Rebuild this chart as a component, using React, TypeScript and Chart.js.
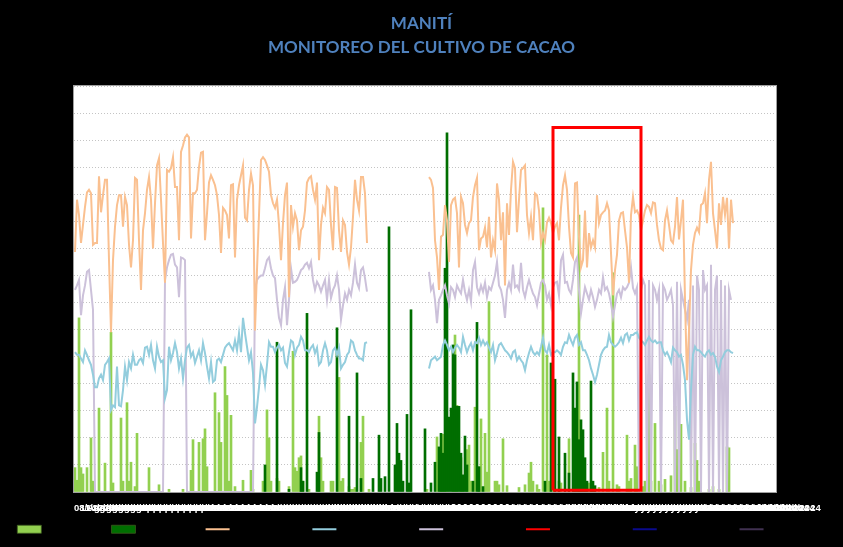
import React, { useEffect, useRef } from 'react';
import { Chart, registerables } from 'chart.js';

Chart.register(...registerables);

const _ = null;

// ---- Categories (one per day) ----
const START_YEAR = 2023;
const START_MONTH = 7; // August (0-based)
const START_DAY = 8;
const DAY_COUNT = 351;
const LABEL_EVERY = 3; // a date label every 3 days (they overlap, as in the original)
const MESES = ['Ene', 'Feb', 'Mar', 'Abr', 'May', 'Jun', 'Jul', 'Ago', 'Sep', 'Oct', 'Nov', 'Dic'];
const DAY_LABELS: string[] = Array.from({ length: DAY_COUNT }, (_v, i) => {
  const d = new Date(START_YEAR, START_MONTH, START_DAY + i);
  return `${String(d.getDate()).padStart(2, '0')}/${MESES[d.getMonth()]}/${d.getFullYear()}`;
});

const TITLE_LINES = ['MANITÍ', 'MONITOREO DEL CULTIVO DE CACAO'];
const SERIES_NAMES = ['Precip. 1', 'Precip. 2', 'T. máx (°C)', 'T. rocío °C', 'T. mín (°C)', 'Etapa clave', 'T. máx hist', 'Tmín hist'];

// ---- Bars: [day index, mm] ----
const LLUVIA_1: [number, number][] = [
  [0, 2.7], [1, 1.3], [2, 19.3], [3, 2.7], [4, 2.0], [6, 2.7], [8, 6.0], [9, 1.2], [12, 9.3], [15, 3.2],
  [18, 17.7], [19, 1.0], [23, 8.2], [24, 1.2], [26, 9.9], [27, 1.2], [28, 3.3], [30, 0.6], [31, 6.5], [37, 2.7],
  [42, 0.8], [47, 0.3], [54, 0.3], [58, 2.4], [59, 5.8], [62, 5.5], [64, 5.9], [65, 7.0], [66, 2.8], [70, 11.0],
  [72, 8.8], [73, 5.5], [75, 13.9], [76, 10.7], [77, 1.2], [78, 8.5], [80, 0.6], [84, 1.3], [88, 2.4], [89, 0.3],
  [94, 1.2], [96, 9.1], [97, 6.0], [98, 1.2], [101, 1.5], [102, 1.2], [107, 0.6], [109, 15.6], [110, 2.7], [111, 2.3],
  [112, 3.8], [113, 4.0], [114, 1.2], [117, 0.3], [122, 8.4], [123, 3.8], [124, 1.2], [128, 1.2], [129, 1.2], [132, 12.7],
  [133, 1.2], [134, 1.5], [137, 0.6], [138, 0.3], [139, 0.3], [140, 0.5], [143, 5.5], [144, 8.4], [147, 0.3], [176, 0.3],
  [181, 6.1], [183, 3.0], [184, 6.4], [185, 5.8], [186, 8.3], [189, 4.3], [190, 17.4], [191, 9.6], [193, 3.8], [194, 1.2],
  [196, 4.7], [197, 5.2], [198, 1.2], [200, 9.4], [202, 2.8], [203, 8.1], [205, 6.5], [206, 2.2], [207, 21.1], [210, 1.2],
  [211, 1.2], [212, 0.8], [214, 5.9], [216, 0.7], [222, 0.5], [225, 0.8], [227, 2.1], [228, 3.3], [229, 1.2], [231, 0.8],
  [232, 0.3], [234, 31.5], [236, 15.2], [237, 1.2], [239, 1.2], [242, 1.2], [243, 1.0], [247, 5.9], [252, 30.7], [257, 1.0],
  [262, 0.5], [264, 4.4], [266, 9.3], [267, 1.2], [269, 24.3], [271, 0.8], [272, 0.6], [276, 6.3], [277, 1.2], [278, 1.5],
  [280, 5.2], [281, 2.8], [284, 0.6], [285, 1.2], [287, 13.0], [288, 1.2], [290, 7.6], [292, 1.2], [293, 0.8], [295, 1.4],
  [298, 1.8], [300, 9.5], [301, 4.7], [302, 0.8], [303, 7.5], [305, 1.2], [308, 0.5], [310, 5.4], [311, 3.5], [312, 1.2],
  [317, 0.3], [319, 0.6], [322, 0.3], [326, 5.0], [327, 4.9],
];

const LLUVIA_2: [number, number][] = [
  [95, 3.0], [101, 16.6], [107, 0.3], [113, 2.7], [114, 1.2], [116, 19.8], [121, 2.2], [122, 6.6], [131, 18.2], [137, 8.4],
  [141, 13.2], [143, 1.5], [149, 1.5], [152, 6.3], [153, 1.5], [155, 1.7], [157, 29.4], [160, 3.0], [161, 7.6], [162, 4.3],
  [163, 3.5], [164, 1.2], [166, 8.6], [167, 1.0], [168, 20.2], [175, 7.0], [178, 1.0], [180, 3.3], [182, 5.0], [183, 6.5],
  [184, 4.3], [185, 24.8], [186, 39.8], [187, 8.3], [188, 9.3], [189, 16.3], [190, 15.2], [191, 9.5], [192, 9.5], [193, 4.3],
  [194, 1.9], [195, 6.2], [196, 3.0], [199, 1.2], [201, 18.8], [202, 2.8], [204, 0.6], [235, 1.2], [238, 14.3], [240, 12.5],
  [242, 6.1], [245, 4.3], [247, 2.1], [249, 13.2], [250, 9.3], [251, 12.2], [252, 5.8], [253, 8.0], [254, 6.9], [255, 3.8],
  [256, 1.2], [258, 12.3], [259, 1.2], [260, 0.7],
];

// ---- Lines (one value per day) ----
const T_MAX = [
  26.6, 32.4, 30.7, 27.6, 29.6, 31.6, 33.2, 33.5, 33.1, 27.4,
  27.6, 27.6, 35.0, 31.0, 32.9, 34.6, 34.6, 25.7, 17.7, 25.7,
  29.4, 31.8, 32.9, 32.9, 29.4, 32.7, 31.8, 27.4, 24.9, 27.9,
  34.8, 34.6, 27.9, 22.4, 29.0, 30.9, 33.5, 34.9, 32.4, 27.0,
  32.0, 36.2, 37.0, 32.4, 27.6, 23.2, 35.7, 35.5, 35.9, 37.1,
  33.8, 33.8, 27.9, 37.7, 38.4, 39.3, 39.6, 39.3, 28.1, 33.1,
  33.1, 33.5, 36.0, 37.6, 37.7, 27.9, 30.9, 34.3, 35.1, 34.6,
  34.0, 32.9, 30.7, 26.5, 31.5, 31.2, 30.7, 28.1, 34.0, 34.1,
  26.0, 32.4, 34.0, 35.1, 36.2, 30.4, 30.1, 33.5, 35.3, 34.0,
  17.9, 24.6, 30.7, 36.8, 37.1, 36.8, 36.2, 35.5, 32.9, 32.0,
  31.5, 32.4, 29.6, 25.7, 29.8, 32.9, 34.3, 21.6, 31.8, 29.4,
  30.9, 30.1, 26.8, 29.0, 29.4, 31.2, 34.3, 34.8, 35.0, 33.5,
  32.4, 34.3, 25.7, 29.6, 31.5, 30.9, 33.8, 33.5, 29.6, 26.8,
  33.8, 33.7, 29.0, 26.6, 30.1, 29.6, 26.6, 25.2, 27.1, 30.5,
  34.6, 32.4, 31.2, 34.9, 34.9, 33.1, 27.6, _, _, _,
  _, _, _, _, _, _, _, _, _, _,
  _, _, _, _, _, _, _, _, _, _,
  _, _, _, _, _, _, _, 34.9, 34.6, 33.7,
  27.9, 26.0, 22.4, 28.3, 28.5, 31.8, 30.1, 25.5, 31.8, 32.4,
  32.6, 30.9, 24.9, 32.7, 32.0, 29.6, 28.7, 29.8, 30.1, 32.7,
  34.0, 34.8, 26.8, 28.1, 28.3, 29.3, 27.1, 30.5, 26.0, 27.9,
  26.8, 34.2, 32.4, 27.9, 31.0, 22.9, 32.0, 28.5, 33.5, 36.6,
  35.9, 28.8, 32.4, 35.7, 35.9, 36.2, 30.7, 28.7, 30.5, 27.9,
  33.1, 32.9, 31.2, 27.6, 28.7, 27.9, 29.9, 30.4, 29.8, 28.7,
  29.4, 29.8, 27.9, 31.5, 34.0, 35.1, 33.5, 29.4, 26.5, 26.0,
  34.2, 34.3, 28.3, 24.9, 25.7, 31.2, 24.9, 28.7, 27.1, 27.9,
  27.1, 32.9, 29.8, 30.7, 31.0, 31.2, 32.0, 31.2, 26.5, 21.8,
  24.6, 26.3, 30.1, 30.9, 31.0, 29.0, 27.1, 23.2, 30.7, 32.7,
  31.0, 31.2, 30.7, 29.0, 30.1, 31.2, 31.8, 31.6, 30.9, 32.1,
  32.0, 29.6, 27.9, 27.0, 26.8, 30.1, 31.2, 29.6, 27.9, 27.6,
  29.4, 32.7, 28.0, 30.1, 32.4, 21.3, 12.4, 17.9, 24.6, 27.4,
  28.7, 29.3, 28.8, 31.8, 32.0, 33.1, 29.8, 34.6, 36.6, 30.9,
  29.0, 27.0, 32.0, 29.6, 32.7, 30.7, 32.6, 27.0, 32.4, 29.8,
  _, _, _, _, _, _, _, _, _, _,
  _, _, _, _, _, _, _, _, _, _,
  _,
];

const T_ROCIO = [
  15.5, 15.2, 15.2, 14.8, 14.4, 15.7, 15.2, 14.6, 14.1, 13.0,
  11.6, 11.6, 12.6, 13.0, 12.4, 14.1, 14.4, 14.8, 9.1, 9.6,
  9.4, 13.9, 9.6, 9.5, 11.3, 13.9, 12.4, 14.4, 13.7, 15.2,
  14.1, 14.1, 14.6, 14.8, 14.3, 16.0, 16.1, 15.2, 16.3, 14.6,
  13.7, 16.1, 15.0, 14.4, 14.6, 10.4, 11.3, 16.1, 14.6, 15.4,
  16.5, 15.5, 13.7, 14.8, 12.6, 14.6, 16.0, 16.3, 15.0, 15.5,
  14.3, 15.0, 15.7, 14.6, 16.5, 15.4, 13.9, 12.6, 14.4, 12.2,
  12.4, 14.6, 14.8, 14.4, 15.2, 16.0, 16.3, 16.5, 16.1, 15.7,
  16.8, 15.7, 17.6, 15.5, 19.3, 17.6, 16.1, 14.6, 15.5, 13.2,
  7.6, 9.4, 11.6, 14.1, 13.5, 11.9, 14.1, 16.6, 16.1, 16.1,
  15.5, 16.0, 16.3, 15.7, 16.0, 14.3, 13.9, 15.5, 16.8, 16.6,
  15.2, 16.0, 16.3, 17.2, 16.8, 15.7, 15.7, 15.5, 16.0, 16.3,
  15.4, 16.0, 14.1, 14.4, 15.7, 16.5, 15.7, 14.1, 14.4, 15.7,
  16.0, 15.2, 16.0, 13.7, 14.1, 14.4, 15.2, 15.5, 16.8, 16.6,
  15.7, 15.2, 14.8, 14.8, 14.6, 16.5, 16.6, _, _, _,
  _, _, _, _, _, _, _, _, _, _,
  _, _, _, _, _, _, _, _, _, _,
  _, _, _, _, _, _, _, 13.7, 14.6, 14.8,
  15.0, 14.6, 14.8, 15.0, 16.3, 16.8, 16.3, 15.7, 16.1, 15.5,
  16.0, 16.3, 16.0, 15.5, 17.2, 16.3, 15.5, 16.1, 16.5, 15.7,
  16.6, 16.5, 17.1, 16.3, 16.8, 16.3, 16.6, 16.0, 15.5, 16.3,
  14.6, 15.4, 16.3, 16.5, 16.1, 15.7, 15.5, 15.2, 14.8, 15.5,
  15.7, 14.6, 15.0, 14.6, 14.3, 13.5, 14.6, 15.4, 16.1, 15.5,
  15.2, 15.5, 15.2, 16.1, 17.1, 15.7, 15.4, 16.3, 15.2, 15.5,
  15.5, 15.7, 15.5, 15.2, 16.1, 16.6, 16.5, 17.4, 16.8, 16.3,
  17.1, 17.4, 16.3, 16.6, 15.7, 15.7, 15.2, 14.6, 13.7, 13.0,
  12.2, 13.0, 14.1, 15.2, 15.7, 16.0, 16.1, 17.4, 16.6, 16.3,
  16.1, 16.3, 16.6, 17.1, 16.5, 17.4, 17.6, 16.8, 17.4, 17.4,
  17.6, 17.7, 17.1, 16.8, 16.6, 16.3, 16.8, 17.2, 16.8, 16.6,
  16.8, 16.5, 16.6, 16.6, 15.7, 15.2, 15.5, 15.0, 14.4, 16.0,
  15.7, 15.5, 15.0, 15.2, 14.1, 12.4, 8.0, 5.8, 11.3, 15.2,
  16.1, 15.7, 15.7, 15.5, 15.2, 15.0, 15.5, 15.7, 15.2, 15.4,
  15.0, 13.9, 13.3, 14.6, 15.0, 15.5, 15.7, 15.7, 15.5, 15.4,
  _, _, _, _, _, _, _, _, _, _,
  _, _, _, _, _, _, _, _, _, _,
  _,
];

const T_MIN = [
  22.4, 22.9, 23.5, 19.6, 21.8, 22.9, 24.4, 24.6, 22.4, 20.2,
  0, 0, 0, 0, 0, 0, 0, 0, 0, 0,
  0, 0, 0, 0, 0, 0, 0, 0, 0, 0,
  0, 0, 0, 0, 0, 0, 0, 0, 0, 0,
  0, 0, 0, 0, 0, 23.5, 24.9, 25.7, 26.3, 26.4,
  25.2, 24.9, 21.6, 26.0, 25.9, 25.7, 0, 0, 0, 0,
  0, 0, 0, 0, 0, 0, 0, 0, 0, 0,
  0, 0, 0, 0, 0, 0, 0, 0, 0, 0,
  0, 0, 0, 0, 0, 0, 0, 0, 0, 0,
  22.4, 23.5, 23.8, 24.0, 24.0, 24.8, 25.7, 26.0, 24.8, 24.0,
  23.7, 21.3, 19.3, 18.5, 21.3, 22.7, 18.5, 21.3, 24.8, 23.2,
  23.3, 23.5, 24.0, 24.6, 24.8, 25.2, 25.4, 24.8, 25.5, 23.5,
  22.4, 23.3, 22.9, 22.2, 22.9, 23.5, 21.3, 23.5, 21.5, 22.4,
  22.9, 24.0, 22.4, 19.1, 20.7, 22.0, 21.3, 22.4, 21.8, 23.2,
  25.2, 23.2, 22.6, 24.6, 24.9, 23.7, 22.2, _, _, _,
  _, _, _, _, _, _, _, _, _, _,
  _, _, _, _, _, _, _, _, _, _,
  _, _, _, _, _, _, _, 24.4, 22.4, 22.9,
  21.3, 18.7, 21.3, 21.8, 22.4, 22.9, 21.8, 20.9, 22.7, 22.4,
  21.6, 22.9, 22.4, 22.0, 23.5, 22.2, 21.3, 22.4, 21.1, 24.6,
  25.5, 22.7, 22.0, 22.9, 22.2, 23.2, 21.6, 22.7, 22.4, 23.2,
  24.0, 25.5, 22.9, 22.4, 21.3, 19.3, 22.4, 23.2, 22.4, 25.2,
  22.7, 22.9, 22.4, 25.4, 22.4, 21.6, 22.7, 23.5, 22.7, 22.0,
  21.6, 20.7, 22.0, 23.2, 23.5, 22.9, 21.3, 22.0, 20.7, 22.7,
  23.2, 23.3, 21.8, 25.7, 26.3, 23.2, 23.3, 22.4, 22.0, 23.5,
  25.5, 26.0, 22.4, 19.8, 21.3, 22.7, 22.0, 21.3, 22.4, 21.6,
  20.5, 21.3, 22.4, 22.0, 23.8, 22.4, 22.7, 22.0, 20.9, 19.4,
  20.7, 22.0, 22.4, 21.6, 22.7, 22.4, 22.7, 23.2, 24.9, 22.6,
  22.0, 22.7, 0, 22.4, 23.5, 22.9, 0, 23.5, 0, 22.9,
  22.4, 21.3, 22.4, 0, 22.9, 22.4, 21.3, 21.8, 22.4, 20.7,
  0, 23.3, 0, 22.4, 21.3, 20.2, 19.1, 21.3, 0, 22.9,
  0, 24.0, 22.4, 0, 24.6, 22.4, 22.9, 0, 25.2, 0,
  22.4, 24.0, 0, 23.5, 0, 22.9, 0, 22.4, 21.3, _,
  _, _, _, _, _, _, _, _, _, _,
  _, _, _, _, _, _, _, _, _, _,
  _,
];

const T_MAX_HIST: (number | null)[] = [];
const T_MIN_HIST: (number | null)[] = [];

// ---- Highlight box (April – mid May) ----
const BOX_FROM = '03/Abr/2024';
const BOX_TO = '17/May/2024';
const BOX_BOTTOM = 0.2;
const BOX_TOP = 40.4;

const Y_MAX = 45;
const Y_STEP = 3;

const COLORS = ['#92D050', '#006E00', '#FAC090', '#93CDDD', '#CCC1DA', '#FF0000', '#0A0A8C', '#403151'];

const framePlugin = {
  id: 'frame',
  beforeDraw(chart: any) {
    const { ctx, width, height, chartArea: a } = chart;
    ctx.save();
    ctx.fillStyle = '#000000';
    ctx.fillRect(0, 0, width, height);
    ctx.fillStyle = '#ffffff';
    ctx.fillRect(a.left, a.top, a.right - a.left, a.bottom - a.top);
    ctx.restore();
  },
  beforeDatasetsDraw(chart: any) {
    const { ctx, chartArea: a } = chart;
    ctx.save();
    ctx.strokeStyle = '#a0a0a0';
    ctx.lineWidth = 1;
    ctx.strokeRect(a.left - 0.5, a.top - 0.5, a.right - a.left + 1, a.bottom - a.top + 1);
    ctx.restore();
  },
  // date labels of the category axis, placed at the x scale's own tick pixels
  afterDraw(chart: any) {
    const { ctx } = chart;
    const sx = chart.scales.x;
    ctx.save();
    ctx.fillStyle = '#ffffff';
    ctx.font = "bold 9.5px 'Liberation Sans', Arial, sans-serif";
    ctx.textAlign = 'left';
    ctx.textBaseline = 'middle';
    const y = sx.top + 16;
    for (let i = 0; i < DAY_LABELS.length; i += LABEL_EVERY) {
      ctx.fillText(DAY_LABELS[i], sx.getPixelForTick(i) - 1, y);
    }
    ctx.restore();
  },
};

export default function App() {
  const ref = useRef<HTMLCanvasElement>(null);

  useEffect(() => {
    const barData = (pairs: [number, number][]) => pairs.map(([d, v]) => ({ x: DAY_LABELS[d], y: v }));
    const lineDs = (idx: number, data: any[], width = 2) => ({
      type: 'line' as const,
      label: SERIES_NAMES[idx],
      data,
      borderColor: COLORS[idx],
      backgroundColor: COLORS[idx],
      borderWidth: width,
      pointRadius: 0,
      pointHoverRadius: 0,
      tension: 0,
      spanGaps: false,
      fill: false,
      order: 1,
    });

    const chart = new Chart(ref.current!, {
      type: 'bar',
      data: {
        labels: DAY_LABELS,
        datasets: [
          {
            type: 'bar',
            label: SERIES_NAMES[0],
            data: barData(LLUVIA_1) as any,
            backgroundColor: COLORS[0],
            borderWidth: 0,
            grouped: false,
            barThickness: 2,
            order: 3,
          },
          {
            type: 'bar',
            label: SERIES_NAMES[1],
            data: barData(LLUVIA_2) as any,
            backgroundColor: COLORS[1],
            borderWidth: 0,
            grouped: false,
            barThickness: 2,
            order: 2,
          },
          lineDs(2, T_MAX),
          lineDs(3, T_ROCIO),
          lineDs(4, T_MIN),
          {
            ...lineDs(5, [
              { x: BOX_FROM, y: BOX_BOTTOM },
              { x: BOX_FROM, y: BOX_TOP },
              { x: BOX_TO, y: BOX_TOP },
              { x: BOX_TO, y: BOX_BOTTOM },
              { x: BOX_FROM, y: BOX_BOTTOM },
            ], 3),
            order: 0,
          },
          lineDs(6, T_MAX_HIST),
          lineDs(7, T_MIN_HIST),
        ] as any,
      },
      options: {
        responsive: false,
        animation: false,
        devicePixelRatio: 1,
        layout: { padding: { top: 0, left: 0, right: 0, bottom: 2.5 } },
        plugins: {
          title: {
            display: true,
            text: TITLE_LINES,
            color: '#4F81BD',
            font: { family: 'Lato', size: 17, weight: 'bold', lineHeight: 24 / 17 },
            padding: { top: 12, bottom: 26 },
          },
          legend: {
            display: true,
            position: 'bottom',
            labels: {
              color: '#000000',
              font: { family: 'DejaVu Sans Mono', size: 10.5 },
              usePointStyle: true,
              pointStyleWidth: 24,
              boxWidth: 24,
              boxHeight: 8,
              padding: 8,
              generateLabels: (c: any) =>
                c.data.datasets.map((ds: any, i: number) => {
                  const isBar = ds.type === 'bar';
                  return {
                    text: ds.label,
                    datasetIndex: i,
                    hidden: false,
                    pointStyle: isBar ? 'rect' : 'line',
                    fillStyle: COLORS[i],
                    strokeStyle: isBar ? '#3c5a1e' : COLORS[i],
                    lineWidth: isBar ? 0.8 : 2,
                    lineCap: 'butt',
                    lineDash: [],
                    fontColor: '#000000',
                  };
                }),
            },
          },
          tooltip: { enabled: false },
        },
        scales: {
          x: {
            type: 'category',
            offset: true,
            grid: { display: false, drawTicks: false },
            border: { display: false },
            ticks: { display: false, autoSkip: false },
            afterFit: (s: any) => {
              s.height = 24;
            },
          },
          y: {
            type: 'linear',
            position: 'left',
            min: 0,
            max: Y_MAX,
            ticks: { display: false, stepSize: Y_STEP },
            grid: { color: '#c4c4c4', drawTicks: false, lineWidth: 1 },
            border: { display: false, dash: [1, 2] },
            afterFit: (s: any) => {
              s.width = 74;
            },
          },
          yR: {
            type: 'linear',
            position: 'right',
            min: 0,
            max: 1,
            ticks: { display: false },
            grid: { display: false, drawTicks: false },
            border: { display: false },
            afterFit: (s: any) => {
              s.width = 67;
            },
          },
        },
      } as any,
      plugins: [framePlugin],
    });
    return () => chart.destroy();
  }, []);

  return (
    <div style={{ position: 'absolute', left: 0, top: 0, width: 843, height: 547, background: '#000' }}>
      <canvas ref={ref} width={843} height={547} style={{ display: 'block', width: 843, height: 547 }} />
    </div>
  );
}
